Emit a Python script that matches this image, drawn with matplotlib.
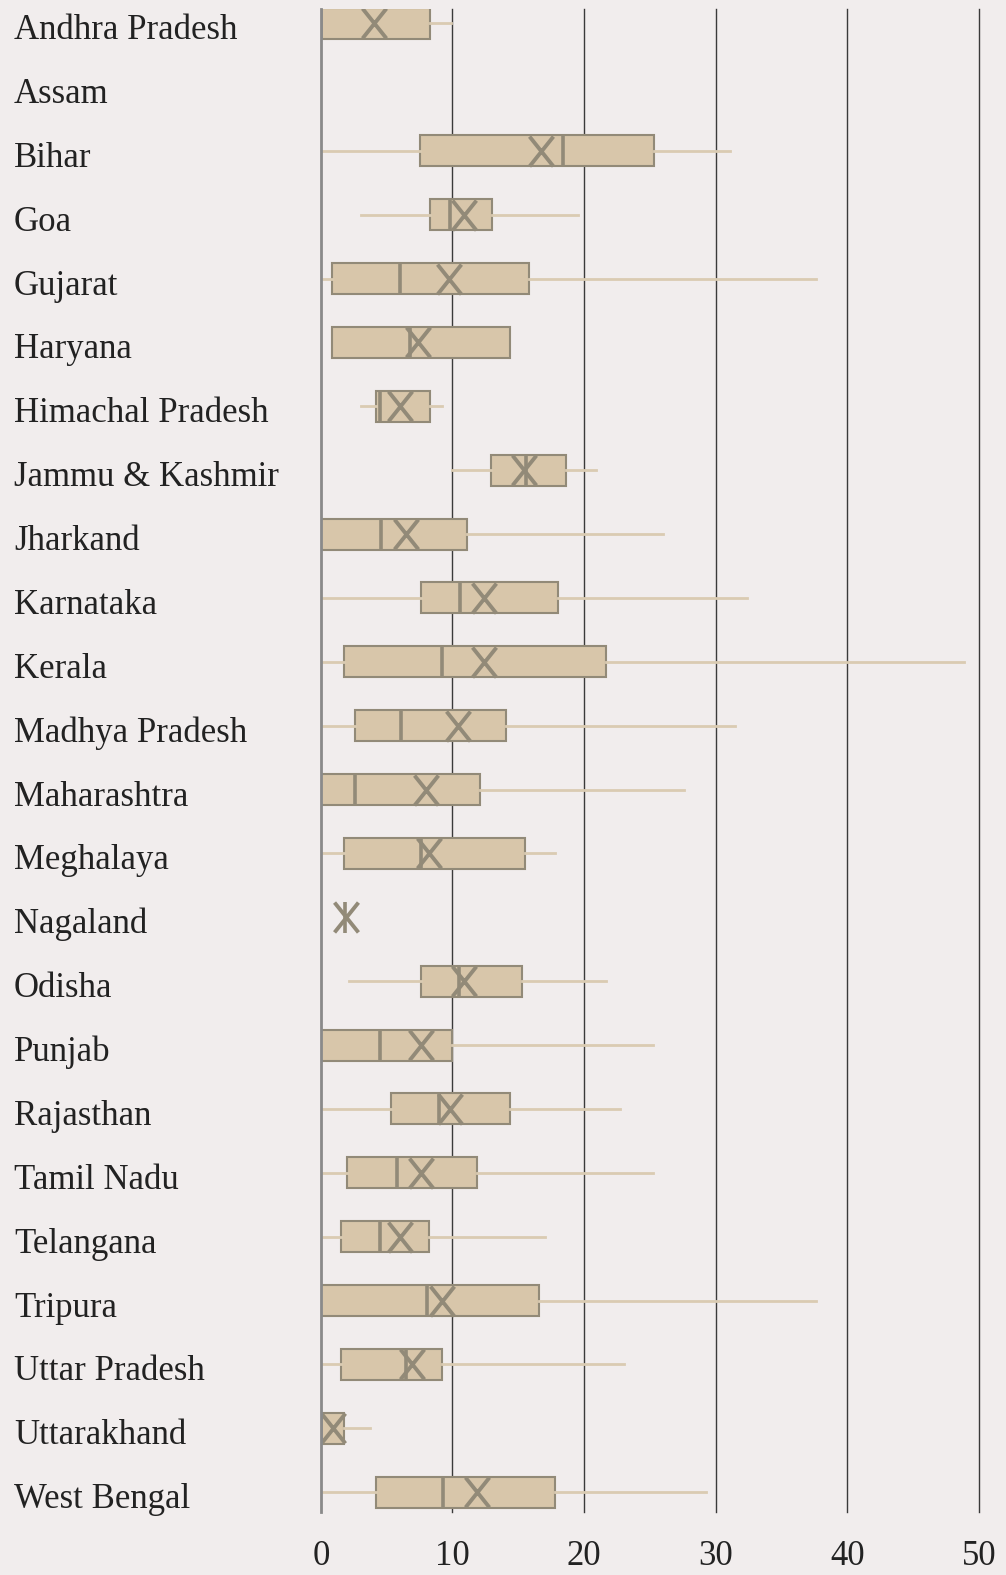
import numpy as np
import matplotlib
matplotlib.use("Agg")
import matplotlib.pyplot as plt
import matplotlib.transforms as mtransforms
from matplotlib.path import Path

states = ["Andhra Pradesh", "Assam", "Bihar", "Goa", "Gujarat", "Haryana",
          "Himachal Pradesh", "Jammu & Kashmir", "Jharkand", "Karnataka",
          "Kerala", "Madhya Pradesh", "Maharashtra", "Meghalaya", "Nagaland",
          "Odisha", "Punjab", "Rajasthan", "Tamil Nadu", "Telangana",
          "Tripura", "Uttar Pradesh", "Uttarakhand", "West Bengal"]

# None = no data (Assam)
whis_lo = [0.0, None, 0.0, 3.05, 0.0, 0.85, 3.05, 10.0, 0.0, 0.0, 0.0, 0.0,
           0.0, 0.0, 1.8, 2.1, 0.0, 0.0, 0.0, 0.0, 0.0, 0.0, 0.0, 0.0]
q1 = [0.0, None, 7.5, 8.3, 0.85, 0.85, 4.2, 12.9, 0.0, 7.6, 1.75, 2.6,
      0.0, 1.75, 1.8, 7.6, 0.0, 5.3, 2.0, 1.5, 0.0, 1.5, 0.0, 4.2]
medians = [0.0, None, 18.4, 9.8, 6.0, 6.8, 4.5, 15.6, 4.6, 10.6, 9.2, 6.1,
           2.6, 7.6, 1.8, 10.5, 4.5, 9.0, 5.8, 4.5, 8.1, 6.5, 0.0, 9.3]
q3 = [8.3, None, 25.3, 13.0, 15.8, 14.4, 8.3, 18.6, 11.1, 18.0, 21.7, 14.1,
      12.1, 15.5, 1.8, 15.3, 10.0, 14.4, 11.9, 8.2, 16.6, 9.2, 1.75, 17.8]
whis_hi = [9.9, None, 31.1, 19.5, 37.6, 14.4, 9.2, 20.9, 26.0, 32.4, 48.9, 31.5,
           27.6, 17.8, 1.8, 21.7, 25.2, 22.7, 25.2, 17.0, 37.6, 23.0, 3.7, 29.3]
means = [4.0, None, 16.7, 10.9, 9.7, 7.4, 6.0, 15.4, 6.5, 12.4, 12.4, 10.4,
         8.0, 8.2, 1.9, 10.9, 7.6, 9.8, 7.6, 6.0, 9.2, 6.9, 0.9, 11.9]

BG = "#f1eded"
FACE = "#d8c6aa"
EDGE = "#928a78"
WHISK = "#dacbb2"

plt.rcParams["font.family"] = ["Liberation Serif", "DejaVu Serif"]

fig = plt.figure(figsize=(10.06, 15.75), dpi=100, facecolor=BG)
ax = fig.add_axes([0.319, 0.04, 0.654, 0.954])
ax.set_facecolor(BG)

stats, pos = [], []
for i, s in enumerate(states):
    if q1[i] is None:
        continue
    stats.append(dict(label=s, whislo=whis_lo[i], q1=q1[i], med=medians[i],
                      q3=q3[i], whishi=whis_hi[i], mean=means[i], fliers=[]))
    pos.append(i)

# tall X marker for the mean
xmark = Path([(-0.8, -1), (0.8, 1), (-0.8, 1), (0.8, -1)],
             [Path.MOVETO, Path.LINETO, Path.MOVETO, Path.LINETO])

ax.bxp(stats, positions=pos, vert=False, widths=0.485, patch_artist=True,
       showmeans=True, showcaps=False, showfliers=False,
       boxprops=dict(facecolor=FACE, edgecolor=EDGE, linewidth=1.5),
       whiskerprops=dict(color=WHISK, linewidth=2.0),
       medianprops=dict(color=EDGE, linewidth=2.6),
       meanprops=dict(marker=xmark, markersize=21.5, markeredgecolor=EDGE,
                      markerfacecolor="none", markeredgewidth=2.8),
       zorder=3)

for v in range(10, 60, 10):
    ax.axvline(v, color="#3a3a3a", linewidth=1.0, zorder=1, clip_on=False)
ax.axvline(0, color="#8a8a8a", linewidth=2.0, zorder=4, clip_on=False)

ax.set_xlim(0, 50)
ax.set_ylim(23.31, -0.214)
for sp in ax.spines.values():
    sp.set_visible(False)

ax.set_xticks(range(0, 60, 10))
ax.tick_params(axis="x", length=0, pad=20, labelsize=25, colors="#222222")
ax.set_yticks([])

trans = mtransforms.blended_transform_factory(fig.transFigure, ax.transData)
trans = trans + mtransforms.ScaledTranslation(0, -11.5 / 72, fig.dpi_scale_trans)
for i, s in enumerate(states):
    ax.text(14 / 1006, i, s, transform=trans, ha="left", va="baseline",
            fontsize=25, color="#222222")

fig.savefig("out.png", dpi=100, facecolor=BG)
